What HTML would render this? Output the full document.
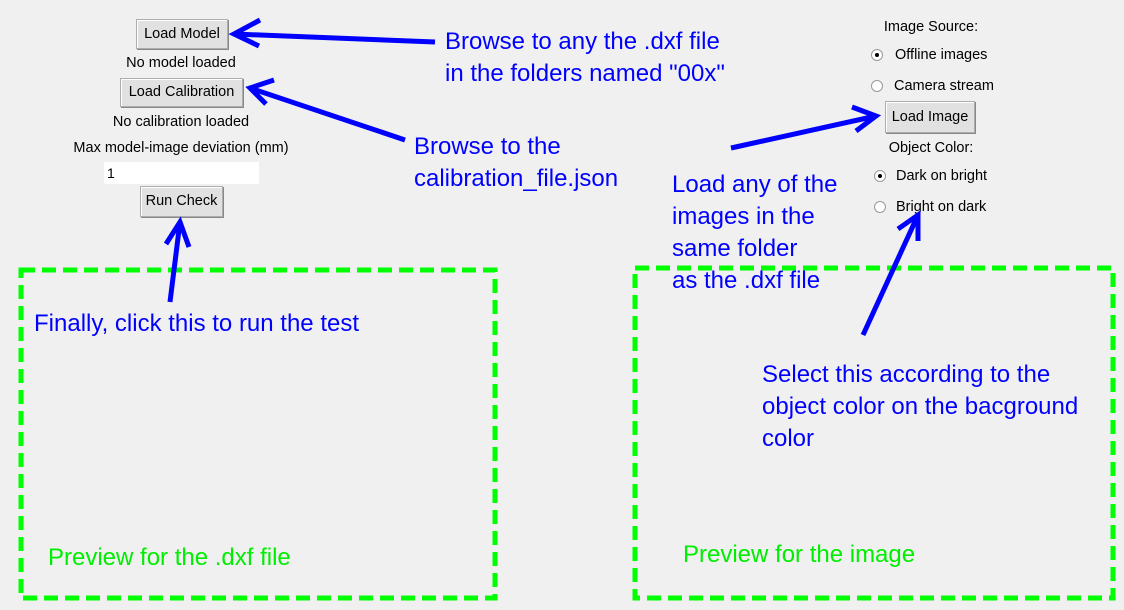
<!DOCTYPE html>
<html><head><meta charset="utf-8"><style>
body{margin:0;width:1124px;height:610px;background:#f0f0f0;position:relative;overflow:hidden;font-family:"Liberation Sans",sans-serif}
.t{position:absolute;font-size:14.5px;color:#000;white-space:nowrap}
.c{transform:translateX(-50%)}
.btn{position:absolute;background:#e1e1e1;border:1px solid #adadad;box-shadow:1px 1px 0 #fff inset,1px 1px 0 #888;font-size:14.5px;text-align:center;box-sizing:border-box;white-space:nowrap}
.b{position:absolute;color:#0000ff;font-size:24px;line-height:32px;white-space:nowrap}
.g{position:absolute;color:#00ee00;font-size:24px;white-space:nowrap}
.r{position:absolute;width:12px;height:12px;border-radius:50%;background:#fff;border:1px solid #999;box-sizing:border-box}
.r.on::after{content:"";position:absolute;left:3px;top:3px;width:4px;height:4px;border-radius:50%;background:#000}
</style></head><body>
<div class="btn" style="left:136px;top:19px;width:92px;height:30px;line-height:28px">Load Model</div>
<div class="t c" style="left:181px;top:55px">No model loaded</div>
<div class="btn" style="left:120px;top:78px;width:123px;height:29px;line-height:27px">Load Calibration</div>
<div class="t c" style="left:181px;top:114px">No calibration loaded</div>
<div class="t c" style="left:181px;top:140px">Max model-image deviation (mm)</div>
<div style="position:absolute;left:104px;top:162px;width:155px;height:22px;background:#fff;font-size:14px;line-height:22px;padding-left:3px;box-sizing:border-box">1</div>
<div class="btn" style="left:140px;top:186px;width:83px;height:31px;line-height:29px">Run Check</div>

<div class="t c" style="left:931px;top:19px">Image Source:</div>
<div class="r on" style="left:871px;top:49px"></div><div class="t" style="left:895px;top:47px">Offline images</div>
<div class="r" style="left:871px;top:80px"></div><div class="t" style="left:894px;top:78px">Camera stream</div>
<div class="btn" style="left:885px;top:101px;width:90px;height:32px;line-height:30px">Load Image</div>
<div class="t c" style="left:931px;top:140px">Object Color:</div>
<div class="r on" style="left:874px;top:170px"></div><div class="t" style="left:896px;top:168px">Dark on bright</div>
<div class="r" style="left:874px;top:201px"></div><div class="t" style="left:896px;top:199px">Bright on dark</div>

<svg style="position:absolute;left:0;top:0" width="1124" height="610">
<g fill="none" stroke="#00ff00" stroke-width="5" stroke-dasharray="14,7">
<rect x="21" y="270" width="474" height="328"/>
<rect x="635" y="268" width="478" height="330"/>
</g>
<g fill="none" stroke="#0000ff" stroke-width="5" stroke-linecap="butt">
<line x1="435" y1="42" x2="234" y2="34"/><polyline points="260,20 234,34 259,46"/>
<line x1="405" y1="140" x2="250" y2="88"/><polyline points="274,80 250,88 266,104"/>
<line x1="170" y1="302" x2="180" y2="222"/><polyline points="166,244 180,222 189,247"/>
<line x1="731" y1="148" x2="876" y2="116"/><polyline points="852,107 876,116 856,131"/>
<line x1="863" y1="335" x2="918" y2="215"/><polyline points="898,229 918,215 918,241"/>
</g>
</svg>

<div class="b" style="left:445px;top:26px">Browse to any the .dxf file<br>in the folders named "00x"</div>
<div class="b" style="left:414px;top:131px">Browse to the<br>calibration_file.json</div>
<div class="b" style="left:672px;top:169px">Load any of the<br>images in the<br>same folder<br>as the .dxf file</div>
<div class="b" style="left:762px;top:359px">Select this according to the<br>object color on the bacground<br>color</div>
<div class="b" style="left:34px;top:308px">Finally, click this to run the test</div>
<div class="g" style="left:48px;top:544px">Preview for the .dxf file</div>
<div class="g" style="left:683px;top:541px">Preview for the image</div>
</body></html>
